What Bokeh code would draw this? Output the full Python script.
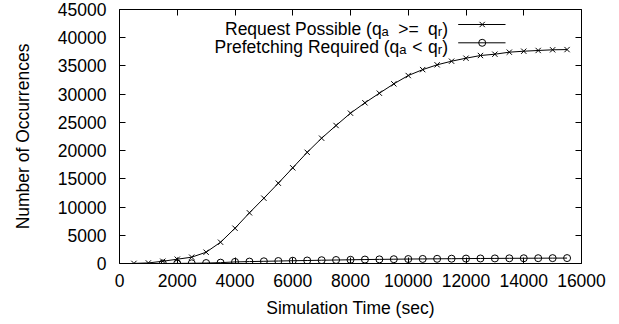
from bokeh.plotting import figure
from bokeh.models import LinearAxis, FixedTicker, Label, Range1d
from bokeh.embed import file_html
from bokeh.resources import INLINE

# ---------------- data ----------------
time_req = [500, 1000, 1500, 2000, 2500, 3000, 3500, 4000, 4500, 5000, 5500,
            6000, 6500, 7000, 7500, 8000, 8500, 9000, 9500, 10000, 10500,
            11000, 11500, 12000, 12500, 13000, 13500, 14000, 14500, 15000, 15500]
req_possible = [20, 100, 400, 760, 1120, 2000, 3770, 6250, 8980, 11570, 14230,
                16950, 19700, 22200, 24450, 26630, 28470, 30170, 31830, 33300, 34350,
                35200, 35840, 36370, 36850, 37080, 37440, 37610, 37740, 37860, 37900]

time_pre = [1500, 2000, 2500, 3000, 3500, 4000, 4500, 5000, 5500,
            6000, 6500, 7000, 7500, 8000, 8500, 9000, 9500, 10000, 10500,
            11000, 11500, 12000, 12500, 13000, 13500, 14000, 14500, 15000, 15500]
prefetch_req = [0, 20, 40, 80, 150, 280, 340, 390, 440, 490, 530, 580, 620, 660,
                700, 730, 760, 790, 810, 830, 850, 870, 890, 900, 920, 930, 940, 950, 960]

x_ticks = [0, 2000, 4000, 6000, 8000, 10000, 12000, 14000, 16000]
x_tick_labels = ["0", "2000", "4000", "6000", "8000", "10000", "12000", "14000", "16000"]
y_ticks = [0, 5000, 10000, 15000, 20000, 25000, 30000, 35000, 40000, 45000]
y_tick_labels = ["0", "5000", "10000", "15000", "20000", "25000", "30000", "35000", "40000", "45000"]

x_title = "Simulation Time (sec)"
y_title = "Number of Occurrences"

# legend rows: (text, is_subscript) pieces; "" marks a word gap
legend_req = [("Request Possible (q", False), ("a", True), ("", False), (">=", False),
              ("", False), ("q", False), ("r", True), (")", False)]
legend_pre = [("Prefetching Required (q", False), ("a", True), ("", False), ("<", False),
              ("", False), ("q", False), ("r", True), (")", False)]

# ---------------- layout ----------------
W, H = 619, 324
FL, FR, FT, FB = 119, 38, 9, 61
X0, X1, Y0, Y1 = 0, 16000, 0, 45000
FONT = "Liberation Sans"
FS = 17.5
SUB = 13.0

p = figure(width=W, height=H, output_backend="svg", toolbar_location=None,
           x_range=Range1d(X0, X1), y_range=Range1d(Y0, Y1),
           min_border_left=FL, min_border_right=FR, min_border_top=FT,
           min_border_bottom=FB, x_axis_label=x_title, y_axis_label=y_title)
p.grid.visible = False
p.outline_line_color = "black"
p.outline_line_width = 1
p.background_fill_color = "white"
p.border_fill_color = "white"

for ax, ticks, labels in ((p.xaxis[0], x_ticks, x_tick_labels), (p.yaxis[0], y_ticks, y_tick_labels)):
    ax.ticker = FixedTicker(ticks=ticks)
    ax.major_label_overrides = {t: l for t, l in zip(ticks, labels)}
    ax.minor_tick_line_color = None
    ax.major_tick_in = 6
    ax.major_tick_out = 0
    ax.axis_line_color = None
    ax.major_label_text_font = FONT
    ax.major_label_text_font_size = f"{FS}px"
    ax.major_label_text_color = "black"
    ax.axis_label_text_font = FONT
    ax.axis_label_text_font_size = f"{FS}px"
    ax.axis_label_text_font_style = "normal"
    ax.axis_label_text_color = "black"
    ax.major_tick_line_color = "black"

p.xaxis[0].major_label_standoff = 10
p.xaxis[0].axis_label_standoff = 8
p.yaxis[0].major_label_standoff = 13
p.yaxis[0].axis_label_standoff = 22

# mirrored ticks on top and right (no labels drawn)
top = LinearAxis(ticker=FixedTicker(ticks=x_ticks), major_label_text_color=None,
                 major_label_standoff=0, major_tick_in=6, major_tick_out=0,
                 minor_tick_line_color=None, axis_line_color=None)
right = LinearAxis(ticker=FixedTicker(ticks=y_ticks), major_label_text_color=None,
                   major_label_standoff=0, major_tick_in=6, major_tick_out=0,
                   minor_tick_line_color=None, axis_line_color=None)
p.add_layout(top, "above")
p.add_layout(right, "right")

# ---------------- series ----------------
p.line(time_req, req_possible, line_color="black", line_width=1)
p.scatter(time_req, req_possible, marker="x", size=7.5, line_color="black", line_width=1)
p.line(time_pre, prefetch_req, line_color="black", line_width=1)
p.scatter(time_pre, prefetch_req, marker="circle", size=7, line_color="black",
          fill_color=None, line_width=1)

# ---------------- legend (gnuplot style) ----------------
FW = W - FL - FR
FH = H - FT - FB

def px2x(px):
    return X0 + (px - FL) / FW * (X1 - X0)

def px2y(py):
    return Y0 + (FT + FH - py) / FH * (Y1 - Y0)

ADV = {'R': 722, 'e': 556, 'q': 556, 'u': 556, 's': 500, 't': 278, ' ': 278, 'P': 667,
       'o': 556, 'i': 222, 'b': 556, 'l': 222, '(': 333, ')': 333, '>': 584, '=': 584,
       '<': 584, 'a': 556, 'r': 333, 'f': 278, 'c': 500, 'h': 556, 'n': 556, 'g': 556,
       'd': 556}
SPACE = 0.278 * FS

def width(s, size):
    return sum(ADV.get(ch, 556) for ch in s) / 1000.0 * size

rows = [(legend_req, "x", 224.5, 28.5, 24.0),
        (legend_pre, "circle", 214.0, 46.5, 42.3)]
TEXT_RIGHT = 447.5
KEY_X0, KEY_X1, KEY_M = 457.7, 505.0, 481.7

for pieces, marker, left, base, mid in rows:
    widths = [SPACE if s == "" else width(s, SUB if sub else FS) for s, sub in pieces]
    ngaps = sum(1 for s, _ in pieces if s == "")
    extra = ((TEXT_RIGHT - left) - sum(widths)) / ngaps
    cx = left
    for (s, sub), w in zip(pieces, widths):
        if s == "":
            cx += w + extra
            continue
        by = base + 2.8 if sub else base
        p.add_layout(Label(x=px2x(cx), y=px2y(by), text=s, text_font=FONT,
                           text_font_size=f"{SUB if sub else FS}px", text_color="black",
                           text_align="left", text_baseline="alphabetic"))
        cx += w
    p.segment(x0=[px2x(KEY_X0)], y0=[px2y(mid)], x1=[px2x(KEY_X1)], y1=[px2y(mid)],
              line_color="black", line_width=1)
    p.scatter([px2x(KEY_M)], [px2y(mid)], marker=marker, size=7.5 if marker == "x" else 7,
              line_color="black", fill_color=None, line_width=1)

open("out.html", "w").write(file_html(p, INLINE))
